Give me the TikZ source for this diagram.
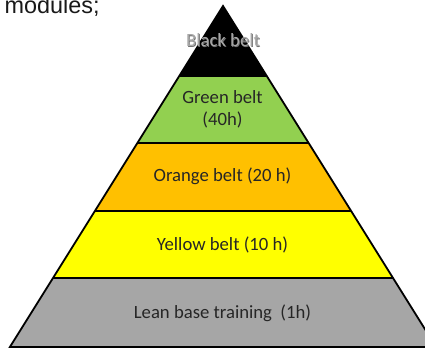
\documentclass[tikz,border=0pt]{standalone}
\usepackage{fontspec}
\setmainfont{Carlito}
\newfontfamily\headfont{Liberation Sans}
\begin{document}
\begin{tikzpicture}[x=1pt,y=-1pt,
  band/.style={line width=1.8pt,line join=miter},
  label/.style={font=\fontsize{18.7}{22}\selectfont,text=black!85,align=center,inner sep=0pt},
  bline/.style={line width=1.8pt}]
\useasboundingbox (0,0) rectangle (425,349);
\clip (0,0) rectangle (425,349);
% pyramid corners per level: apex y=6, edges with slope 0.625
\coordinate (apex) at (223,6);
\coordinate (l1) at (179.25,76);   \coordinate (r1) at (266.75,76);
\coordinate (l2) at (137.56,142.7); \coordinate (r2) at (308.44,142.7);
\coordinate (l3) at (95.06,210.7);  \coordinate (r3) at (350.94,210.7);
\coordinate (l4) at (52.81,278.3);  \coordinate (r4) at (393.19,278.3);
\coordinate (l5) at (9.88,347);     \coordinate (r5) at (436.13,347);
% band fills
\fill[black] (apex) -- (r1) -- (l1) -- cycle;
\fill[fill={rgb,255:red,146;green,208;blue,80}] (l1) -- (r1) -- (r2) -- (l2) -- cycle;
\fill[fill={rgb,255:red,255;green,192;blue,0}] (l2) -- (r2) -- (r3) -- (l3) -- cycle;
\fill[fill={rgb,255:red,255;green,255;blue,0}] (l3) -- (r3) -- (r4) -- (l4) -- cycle;
\fill[fill={rgb,255:red,166;green,166;blue,166}] (l4) -- (r4) -- (r5) -- (l5) -- cycle;
% outlines
\draw[bline] (l1) -- (r1);
\draw[bline] (l2) -- (r2);
\draw[bline] (l3) -- (r3);
\draw[bline] (l4) -- (r4);
\draw[band] (l5) -- (apex) -- (r5) -- cycle;
% labels
\node[label,text=black!55] (blackshadow) at (223.8,41.3) {Black belt};
\node[label,text={rgb,255:red,168;green,168;blue,168}] (black) at (223,40.5) {Black belt};
\node[label] (green) at (222.5,109) {Green belt\\(40h)};
\node[label] (orange) at (222.5,176.7) {Orange belt (20 h)};
\node[label] (yellow) at (222.5,245) {Yellow belt (10 h)};
\node[label] (lean) at (222.5,313.3) {Lean base training\ \ (1h)};
% heading fragment
\node[font=\headfont\fontsize{23.4}{26}\selectfont,anchor=base west,inner sep=0pt,text=black!90] (head) at (4.5,13) {modules;};
\end{tikzpicture}
\end{document}
